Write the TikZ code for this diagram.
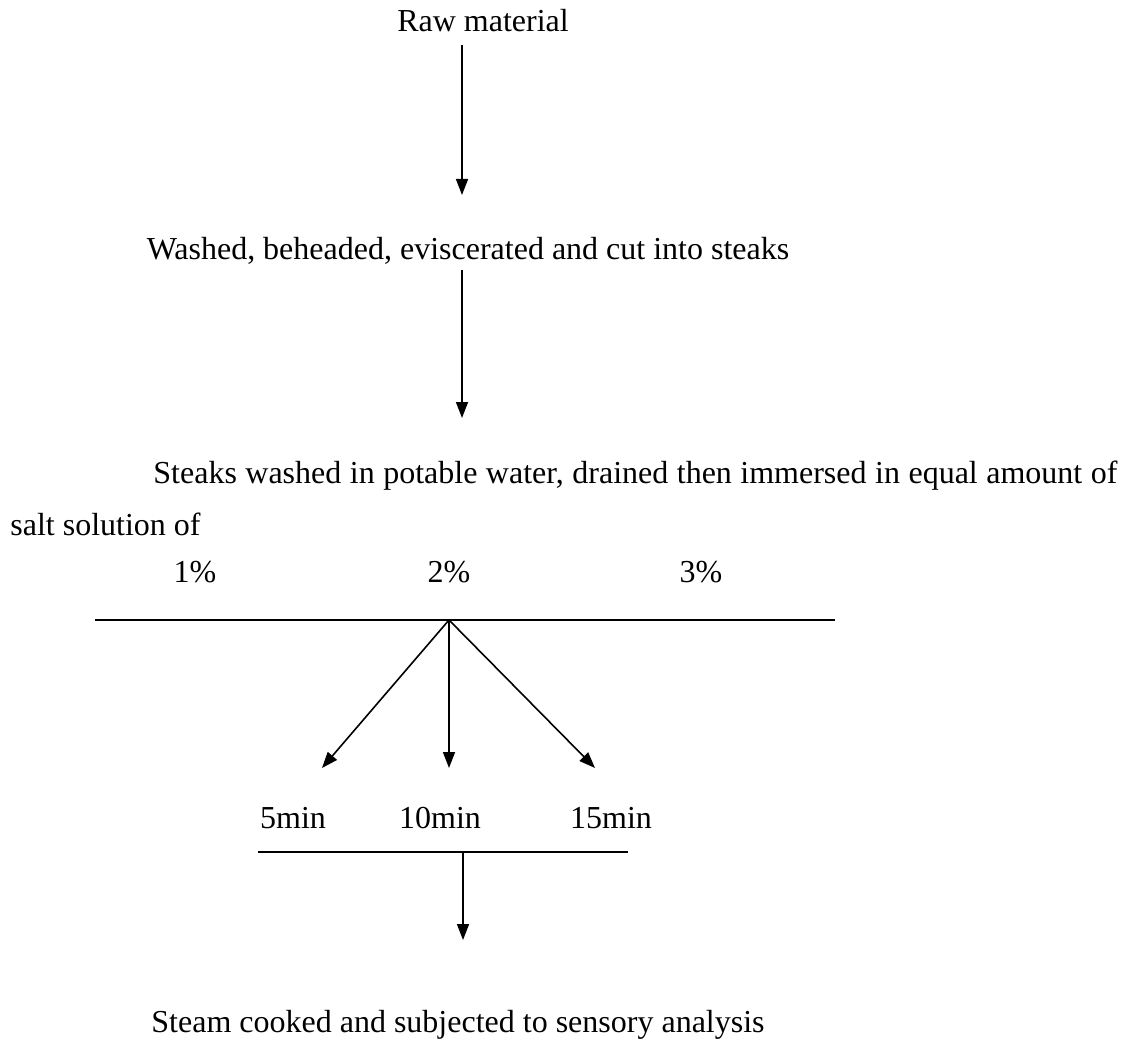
\documentclass[tikz,border=0pt]{standalone}
\usepackage{fontspec}
\setmainfont{Liberation Serif}
\usetikzlibrary{positioning,arrows.meta}

\begin{document}
\begin{tikzpicture}[
x=0.5pt, y=-0.5pt,
lbl/.style={anchor=base, inner sep=0pt, font=\fontsize{16}{26}\selectfont},
arrow/.style={-{Triangle[length=8pt,width=6pt]}, line width=0.8pt},
bar/.style={line width=0.8pt}
]
\useasboundingbox (0,0) rectangle (1127,1063);
% steps
\node[lbl] (raw) at (483,32) {Raw material};
\node[lbl] (washed) at (468,260) {Washed, beheaded, eviscerated and cut into steaks};
\node[lbl, anchor=base west] (steaks) at (153,483) {\makebox[482pt][s]{Steaks washed in potable water, drained then immersed in equal amount of}};
\node[lbl, anchor=base west] (salt) at (10,535) {salt solution of};
\node[lbl] (pone) at (195,582) {1\%};
\node[lbl] (ptwo) at (449,582) {2\%};
\node[lbl] (pthree) at (701,582) {3\%};
\node[lbl] (tfive) at (293,828) {5min};
\node[lbl] (tten) at (440,828) {10min};
\node[lbl] (tfifteen) at (611,828) {15min};
\node[lbl] (steam) at (458,1032) {Steam cooked and subjected to sensory analysis};
% arrow ends
\coordinate (rawout) at (462,45);
\coordinate (washedin) at (462,195);
\coordinate (washedout) at (462,270);
\coordinate (steaksin) at (462,418);
\coordinate (pctleft) at (95,620);
\coordinate (pctright) at (835,620);
\coordinate (fork) at (449,620);
\coordinate (fiveend) at (322,768);
\coordinate (tenend) at (449,768);
\coordinate (fifteenend) at (595,768);
\coordinate (minleft) at (258,852);
\coordinate (minright) at (628,852);
\coordinate (merge) at (463,852);
\coordinate (steamin) at (463,940);
% connectors
\draw[arrow] (rawout) -- (washedin);
\draw[arrow] (washedout) -- (steaksin);
\draw[bar] (pctleft) -- (pctright);
\draw[arrow] (fork) -- (fiveend);
\draw[arrow] (fork) -- (tenend);
\draw[arrow] (fork) -- (fifteenend);
\draw[bar] (minleft) -- (minright);
\draw[arrow] (merge) -- (steamin);
\end{tikzpicture}
\end{document}
